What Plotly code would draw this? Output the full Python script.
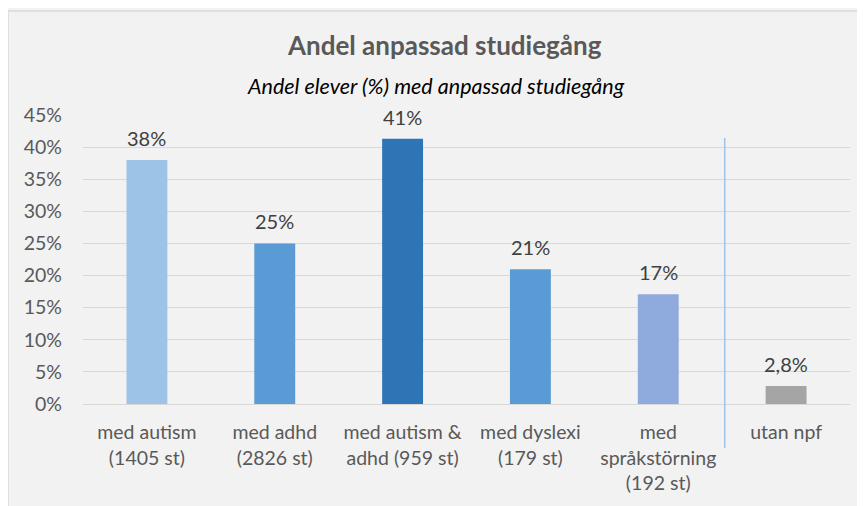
import plotly.graph_objects as go

categories = ["med autism<br>(1405 st)", "med adhd<br>(2826 st)", "med autism &<br>adhd (959 st)",
              "med dyslexi<br>(179 st)", "med<br>språkstörning<br>(192 st)", "utan npf"]
values = [38.0, 25.0, 41.3, 21.0, 17.1, 2.8]
labels = ["38%", "25%", "41%", "21%", "17%", "2,8%"]
colors = ["#9DC3E6", "#5B9BD5", "#2E75B6", "#5B9BD5", "#8FAADC", "#A5A5A5"]
y_ticks = [0, 5, 10, 15, 20, 25, 30, 35, 40, 45]
y_tick_text = ["0%", "5%", "10%", "15%", "20%", "25%", "30%", "35%", "40%", "45%"]

FONT = "Lato, Carlito, Calibri, sans-serif"
W, H = 865, 506
OFF = 8  # page body offset
# target screen pixels of plot area
SX0, SX1, SY0, SY1 = 83, 850, 115, 404
L = SX0 - OFF
R = W - (SX1 - OFF)
T = SY0 - OFF
B = H - (SY1 - OFF)
pw, ph = W - L - R, H - T - B

def sx(px):
    return (px - SX0) / (SX1 - SX0)

def sy(py):
    return (SY1 - py) / (SY1 - SY0)

fig = go.Figure()
fig.add_trace(go.Bar(
    x=categories, y=values, marker=dict(color=colors, line=dict(width=0)),
    hoverinfo="skip",
))

shapes = [
    dict(type="rect", xref="paper", yref="paper",
         x0=sx(8), x1=sx(W + 20), y0=sy(H + 20), y1=sy(11),
         line=dict(color="#D9D9D9", width=1.5), fillcolor="rgba(0,0,0,0)", layer="below"),
    dict(type="line", xref="x", yref="paper", x0=4.52, x1=4.52,
         y0=sy(448), y1=sy(138),
         line=dict(color="#9DC3E6", width=1.5)),
]

annotations = [
    dict(text="<b>Andel anpassad studiegång</b>", xref="paper", yref="paper",
         x=sx(444), y=sy(45), xanchor="center", yanchor="middle",
         showarrow=False, font=dict(family=FONT, size=26, color="#595959")),
    dict(text="<i>Andel elever (%) med anpassad studiegång</i>", xref="paper", yref="paper",
         x=sx(436), y=sy(86), xanchor="center", yanchor="middle",
         showarrow=False, font=dict(family=FONT, size=21.5, color="#000000")),
]
for c, v, t in zip(categories, values, labels):
    annotations.append(dict(text=t, x=c, y=v, xref="x", yref="y", showarrow=False,
                            xanchor="center", yanchor="middle", yshift=22,
                            font=dict(family=FONT, size=20, color="#404040")))

fig.update_layout(
    width=W, height=H, margin=dict(l=L, r=R, t=T, b=B, autoexpand=False),
    paper_bgcolor="#F2F2F2", plot_bgcolor="#F2F2F2",
    showlegend=False, bargap=0.68,
    shapes=shapes, annotations=annotations,
    font=dict(family=FONT, size=19.5, color="#595959"),
)
fig.update_yaxes(range=[0, 45], tickvals=y_ticks, ticktext=y_tick_text,
                 showgrid=True, gridcolor="#D9D9D9", gridwidth=1,
                 zeroline=False, showline=False, ticks="",
                 ticklabelstandoff=20, automargin=False,
                 tickfont=dict(family=FONT, size=19.5, color="#595959"))
fig.update_xaxes(showgrid=False, showline=True, linecolor="#D9D9D9", linewidth=1,
                 ticks="", ticklabelstandoff=11, automargin=False,
                 tickfont=dict(family=FONT, size=19.5, color="#595959"), tickangle=0)

fig.write_html("out.html")
